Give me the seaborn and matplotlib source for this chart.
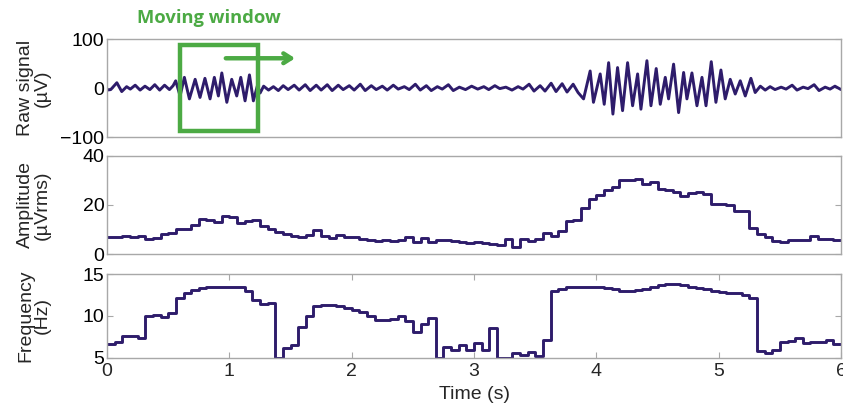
import numpy as np
import pandas as pd
import matplotlib
matplotlib.use("Agg")
import matplotlib.pyplot as plt
import seaborn as sns
from matplotlib.patches import Rectangle

# raw signal: extrema (time s, value uV)
raw_t = [0.00, 0.03, 0.08, 0.12, 0.16, 0.19, 0.23, 0.27, 0.31, 0.35, 0.39, 0.43, 0.47, 0.51, 0.54,
         0.561, 0.597, 0.632, 0.673, 0.72, 0.76, 0.80, 0.842, 0.877, 0.91, 0.938, 0.979, 1.019, 1.06,
         1.093, 1.128, 1.164, 1.196, 1.229, 1.251,
         1.28, 1.32, 1.36, 1.40, 1.44, 1.48, 1.53, 1.57, 1.62, 1.66, 1.71, 1.75, 1.80, 1.84, 1.89,
         1.93, 1.98, 2.02, 2.07, 2.11, 2.16, 2.20, 2.25, 2.29, 2.34, 2.38, 2.43, 2.47, 2.52, 2.56,
         2.61, 2.65, 2.70, 2.74, 2.79, 2.83, 2.88, 2.93, 2.98, 3.03, 3.08, 3.12, 3.17, 3.21, 3.26,
         3.31, 3.36, 3.40, 3.45, 3.49, 3.54, 3.58, 3.63, 3.67, 3.72, 3.76, 3.81, 3.85,
         3.895, 3.949, 3.976, 4.031, 4.064, 4.10, 4.135, 4.173, 4.214, 4.255, 4.296, 4.337, 4.364,
         4.413, 4.446, 4.489, 4.522, 4.563, 4.59, 4.631, 4.672, 4.713, 4.74, 4.781, 4.822, 4.863,
         4.896, 4.939, 4.977, 5.018, 5.053, 5.094, 5.135, 5.176, 5.217, 5.263, 5.298,
         5.34, 5.38, 5.42, 5.46, 5.51, 5.55, 5.60, 5.64, 5.69, 5.73, 5.78, 5.82, 5.87, 5.91, 5.95, 6.00]
raw_v = [-4, -3, 11, -7, 3, -2, 6, -4, 4, -3, 7, -4, 6, -3, 5,
         15, -16, 22, -22, 18, -19, 20, -22, 22, -16, 31, -29, 18, -16,
         22, -26, 27, -26, 5, -10,
         4, -4, 3, -5, 5, -3, 6, -4, 7, -5, 6, -4, 7, -5, 6,
         -3, 5, -4, 8, -5, 5, -3, 4, -4, 6, -2, 3, -3, 8, -4,
         5, -5, 3, -2, 7, -5, 2, -3, 4, -2, 3, -3, 5, -1, 2,
         -4, 3, -2, 8, -6, 5, -6, 10, -7, 9, -8, 8, -9,
         -22, 35, -29, 29, -33, 52, -53, 42, -46, 52, -36, 29, -43,
         56, -36, 40, -33, 22, -22, 49, -50, 32, -22, 31, -36, 22,
         -36, 54, -29, 37, -22, 18, -12, 15, -16, 20, -9,
         4, -4, 3, -3, 2, -2, 6, -4, 2, -1, 7, -5, 2, -2, 4, -3]

# moving-window estimates, one value per 1/16 s window
win = 0.0625
amp_rms = [6.9, 6.9, 7.4, 7.0, 7.5, 6.3, 6.6, 8.2, 8.8, 10.3, 10.3, 11.9, 14.2, 13.9, 13.1, 15.4,
           15.1, 12.8, 13.4, 13.8, 11.6, 10.1, 9.2, 8.2, 7.5, 6.9, 8.0, 9.9, 7.4, 6.7, 7.7, 7.0,
           6.9, 6.2, 5.8, 5.5, 5.8, 5.5, 5.8, 6.9, 5.0, 6.6, 5.0, 5.9, 5.7, 5.4, 5.1, 4.5,
           5.0, 4.6, 4.2, 3.6, 6.2, 2.8, 6.3, 5.4, 6.3, 8.5, 7.5, 9.4, 13.5, 13.9, 18.7, 22.3,
           24.1, 26.1, 27.3, 30.0, 30.0, 30.5, 28.7, 29.3, 26.3, 26.1, 25.4, 23.7, 25.0, 25.4, 24.3, 20.5,
           20.5, 20.0, 17.4, 17.4, 10.5, 8.1, 7.1, 5.5, 5.0, 5.8, 5.8, 6.0, 7.4, 6.1, 6.1, 5.8]
freq_hz = [6.6, 6.85, 7.55, 7.55, 7.3, 10.0, 10.15, 9.9, 10.35, 12.1, 12.7, 13.05, 13.3, 13.4, 13.4, 13.4,
           13.4, 13.4, 13.0, 11.85, 11.4, 11.5, 5.0, 6.15, 6.55, 8.65, 9.95, 11.2, 11.3, 11.3, 11.2, 10.9,
           10.75, 10.45, 9.95, 9.55, 9.55, 9.65, 9.95, 9.35, 8.05, 9.05, 9.75, 5.0, 6.3, 5.95, 6.5, 5.95,
           6.75, 5.95, 8.55, 5.0, 5.0, 5.6, 5.35, 5.7, 5.25, 7.15, 13.0, 13.25, 13.4, 13.4, 13.4, 13.45,
           13.45, 13.33, 13.17, 13.0, 13.0, 13.1, 13.17, 13.45, 13.65, 13.77, 13.77, 13.65, 13.45, 13.33, 13.17, 12.93,
           12.85, 12.77, 12.69, 12.53, 12.13, 5.76, 5.56, 5.88, 6.84, 7.04, 7.35, 6.76, 6.88, 6.88, 7.15, 6.67]

line_col = "#2e1c6b"
green = "#4caa44"
grid_col = "#a8a8a8"
fs = 14

sns.set_style("white")
plt.rcParams["font.family"] = ["Liberation Sans", "DejaVu Sans"]

raw = pd.DataFrame({"t": raw_t, "v": raw_v})
t_steps = np.arange(len(amp_rms) + 1) * win
steps = pd.DataFrame({"t": t_steps,
                      "amp": amp_rms + [amp_rms[-1]],
                      "freq": freq_hz + [freq_hz[-1]]})

fig = plt.figure(figsize=(8.43, 4.08), dpi=100)
ax1 = fig.add_axes([0.127, 0.664, 0.8707, 0.240])
ax2 = fig.add_axes([0.127, 0.3767, 0.8707, 0.2417])
ax3 = fig.add_axes([0.127, 0.1233, 0.8707, 0.205])

sns.lineplot(data=raw, x="t", y="v", ax=ax1, color=line_col, linewidth=2.1)
sns.lineplot(data=steps, x="t", y="amp", ax=ax2, color=line_col, linewidth=2.1,
             drawstyle="steps-post")
sns.lineplot(data=steps, x="t", y="freq", ax=ax3, color=line_col, linewidth=2.1,
             drawstyle="steps-post")

ax1.set_ylim(-100, 100)
ax1.set_yticks([-100, 0, 100])
ax2.set_ylim(0, 40)
ax2.set_yticks([0, 20, 40])
ax3.set_ylim(5, 15)
ax3.set_yticks([5, 10, 15])
ax3.set_xticks(range(7))

for ax in (ax1, ax2, ax3):
    ax.set_xlim(0, 6)
    for s in ax.spines.values():
        s.set_color(grid_col)
        s.set_linewidth(1.0)
    ax.tick_params(axis="y", direction="in", length=4, color=grid_col, labelsize=fs,
                   pad=2, left=True, right=True, labelcolor="black")
    ax.set_xlabel("")
for ax in (ax1, ax2):
    ax.set_xticks([])
ax3.tick_params(axis="x", direction="in", length=4, color=grid_col, labelsize=fs,
                pad=4, top=True, bottom=True)

ax1.set_ylabel("Raw signal\n(µV)", fontsize=fs, linespacing=0.95)
ax2.set_ylabel("Amplitude\n(µVrms)", fontsize=fs, linespacing=0.95)
ax3.set_ylabel("Frequency\n(Hz)", fontsize=fs, linespacing=0.95)
for ax in (ax1, ax2, ax3):
    ax.yaxis.set_label_coords(-0.077, 0.5)
ax3.set_xlabel("Time (s)", fontsize=fs, labelpad=4)

# moving window marker
ax1.add_patch(Rectangle((0.597, -87.8), 0.638, 175.6, fill=False, edgecolor=green,
                        linewidth=3.2, zorder=5))
ax1.annotate("", xy=(1.56, 61), xytext=(0.948, 61),
             arrowprops=dict(arrowstyle="->,head_length=0.55,head_width=0.35",
                             color=green, lw=3.2), annotation_clip=False)
fig.text(137 / 843, 1 - 18 / 408, "Moving window", color=green, fontsize=13.2,
         fontweight="bold", family=["Open Sans", "DejaVu Sans"], va="center", ha="left")

fig.savefig("out.png", dpi=100)
